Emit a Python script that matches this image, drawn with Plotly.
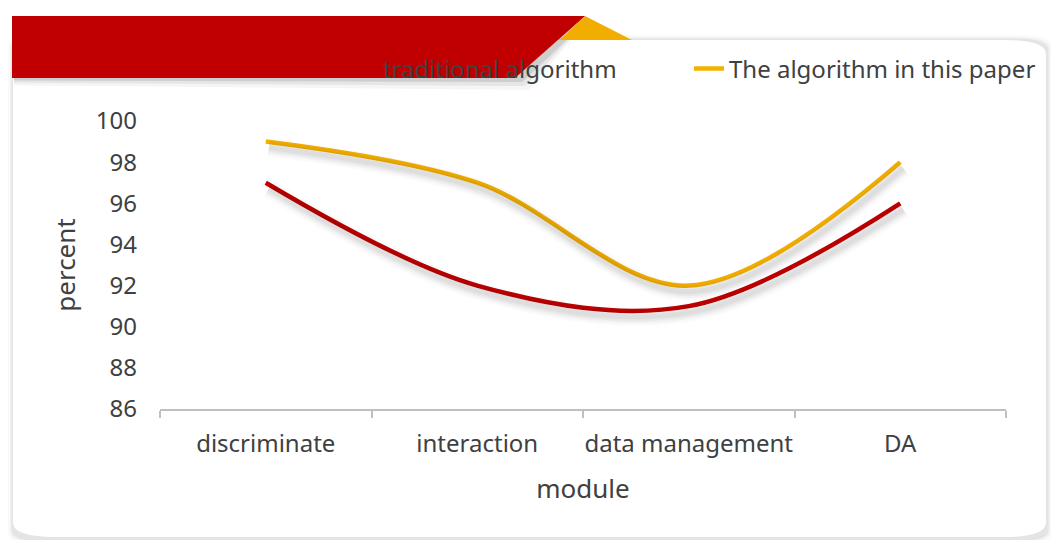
import plotly.graph_objects as go

# Module accuracy (%) for the two algorithms
modules = ["discriminate", "interaction", "data management", "DA"]
traditional = [97, 92, 91, 96]
proposed = [99, 97, 92, 98]
series_names = ["traditional algorithm", "The algorithm in this paper"]

RED = "#C00000"
GOLD = "#F5B000"
TEXT = "#404040"
FONT = "Noto Sans"

# Plot-area geometry in pixels (used to place decorative shapes)
W, H = 1051, 540
L, R, T, B = 160, 45, 121, 131
PW, PH = W - L - R, H - T - B
YMIN, YMAX = 86, 100


def px(x):
    return (x - L) / PW


def py(y):
    return (H - B - y) / PH


fig = go.Figure()

# soft drop shadows under the curves, drawn on offset overlay axes
for width, alpha in [(18, 0.02), (13, 0.03), (9, 0.04), (5, 0.04)]:
    for vals in (traditional, proposed):
        fig.add_trace(go.Scatter(
            x=modules, y=vals, xaxis="x2", yaxis="y2", mode="lines",
            line=dict(color=f"rgba(0,0,0,{alpha})", width=width, shape="spline"),
            showlegend=False, hoverinfo="skip"))

fig.add_trace(go.Scatter(
    x=modules, y=traditional, name=series_names[0], mode="lines",
    line=dict(color=RED, width=4.5, shape="spline"), legend="legend"))
fig.add_trace(go.Scatter(
    x=modules, y=proposed, name=series_names[1], mode="lines",
    line=dict(color=GOLD, width=4.5, shape="spline"), legend="legend2"))


def rounded_rect(x0, y0, x1, y1, r):
    return (f"M {x0+r},{y0} L {x1-r},{y0} Q {x1},{y0} {x1},{y0+r} "
            f"L {x1},{y1-r} Q {x1},{y1} {x1-r},{y1} L {x0+r},{y1} "
            f"Q {x0},{y1} {x0},{y1-r} L {x0},{y0+r} Q {x0},{y0} {x0+r},{y0} Z")


def paper_path(points_px):
    return "M " + " L ".join(f"{px(x)},{py(y)}" for x, y in points_px) + " Z"


shapes = []
# card shadow layers
for grow, alpha in [(5, 0.02), (3, 0.035), (1.5, 0.05)]:
    shapes.append(dict(
        type="path", xref="paper", yref="paper", layer="below",
        path=rounded_rect(px(13 - grow), py(540 + grow), px(1047 + grow), py(40 - grow), 0.04),
        fillcolor=f"rgba(0,0,0,{alpha})", line=dict(width=0)))
# white card
shapes.append(dict(
    type="path", xref="paper", yref="paper", layer="below",
    path=rounded_rect(px(13), py(537), px(1046), py(40), 0.05),
    fillcolor="white", line=dict(width=0)))

# banner shadow
for off, alpha in [(12, 0.04), (8, 0.06), (4, 0.1)]:
    shapes.append(dict(
        type="path", xref="paper", yref="paper", layer="above",
        path=paper_path([(14, 20), (588, 20), (519 + off * 0.8, 78 + off), (14, 78 + off * 0.6)]),
        fillcolor=f"rgba(0,0,0,{alpha})", line=dict(width=0)))
# gold fold
shapes.append(dict(
    type="path", xref="paper", yref="paper", layer="above",
    path=paper_path([(585, 16), (632, 40), (560, 40)]),
    fillcolor="#F2AE00", line=dict(width=0)))
# red banner
shapes.append(dict(
    type="path", xref="paper", yref="paper", layer="above",
    path=paper_path([(12, 16), (585, 16), (515, 78), (12, 78)]),
    fillcolor=RED, line=dict(width=0)))

legend_style = dict(
    orientation="h", xanchor="left", y=py(69), yanchor="middle",
    bgcolor="rgba(0,0,0,0)", font=dict(size=24, color=TEXT), itemwidth=30)

fig.update_layout(
    width=W, height=H,
    margin=dict(l=L, r=R, t=T, b=B, pad=0, autoexpand=False),
    paper_bgcolor="white", plot_bgcolor="rgba(0,0,0,0)",
    font=dict(family=FONT, size=24, color=TEXT),
    shapes=shapes,
    showlegend=True,
    legend=dict(x=px(343), **legend_style),
    legend2=dict(x=px(689), **legend_style),
    xaxis=dict(
        type="category", range=[-0.5, 3.5], tickson="boundaries",
        ticks="outside", ticklen=7, tickcolor="#BFBFBF", tickwidth=1.5,
        showline=True, linecolor="#BFBFBF", linewidth=1.5, tickangle=0,
        automargin=False,
        showgrid=False, zeroline=False, ticklabelstandoff=12,
        title=dict(text="module", font=dict(size=26, color=TEXT), standoff=22)),
    yaxis=dict(
        range=[YMIN, YMAX], dtick=2, showgrid=False, zeroline=False,
        showline=False, ticks="", ticklabelstandoff=22, automargin=False,
        title=dict(text="percent", font=dict(size=26, color=TEXT), standoff=12)),
    xaxis2=dict(
        type="category", overlaying="x", range=[-0.5 - 3 / (PW / 4), 3.5 - 3 / (PW / 4)],
        visible=False),
    yaxis2=dict(
        overlaying="y", range=[YMIN + 6 * 14 / PH, YMAX + 6 * 14 / PH], visible=False),
)

fig.write_html("out.html")
